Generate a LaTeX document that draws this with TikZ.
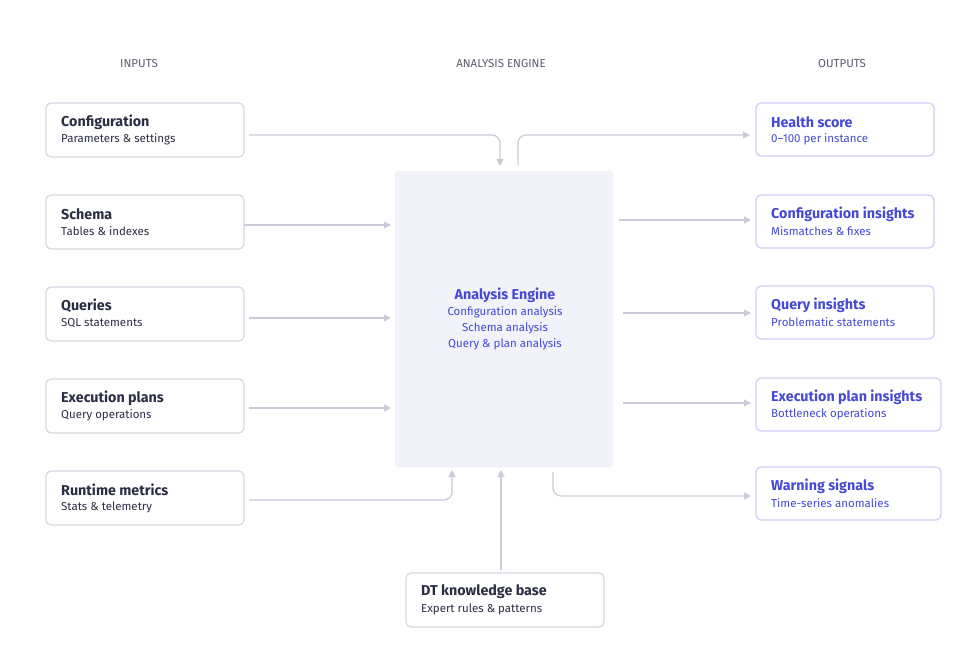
\documentclass[tikz,border=0pt]{standalone}
\usepackage{fontspec}
\setmainfont{Fira Sans}
\usetikzlibrary{arrows.meta}
\definecolor{bd}{HTML}{D6D9E3}
\definecolor{bdb}{HTML}{CDD1F3}
\definecolor{ar}{HTML}{C9CBD8}
\definecolor{eng}{HTML}{F1F2FA}
\definecolor{dk}{HTML}{2B2D45}
\definecolor{bl}{HTML}{4549D3}
\definecolor{hd}{HTML}{5A5D70}
\begin{document}
\begin{tikzpicture}[x=1pt,y=-1pt,
 box/.style={draw=bd,line width=1.3pt,rounded corners=5pt,fill=white},
 obox/.style={draw=bdb,line width=1.3pt,rounded corners=5pt,fill=white},
 ttl/.style={anchor=west,inner sep=1pt,font=\fontsize{14.3}{16}\selectfont\bfseries,text=dk},
 sub/.style={anchor=west,inner sep=1pt,font=\fontsize{11.5}{13}\selectfont,text=dk},
 ottl/.style={ttl,text=bl}, osub/.style={sub,text=bl},
 hdr/.style={font=\fontsize{11.5}{13}\selectfont,text=hd},
 arr/.style={draw=ar,line width=1.2pt,-{Triangle[length=7pt,width=7pt]},rounded corners=8pt}]
\useasboundingbox (0,0) rectangle (970,662);
\node[hdr] at (139,64) {INPUTS};
\node[hdr] at (501,64) {ANALYSIS ENGINE};
\node[hdr] at (842,64) {OUTPUTS};
% inputs
\foreach \n/\y/\t/\s in {cfg/103/Configuration/Parameters \& settings, sch/195/Schema/Tables \& indexes, qry/287/Queries/SQL statements, exe/379/Execution plans/Query operations, run/471/Runtime metrics/Stats \& telemetry}{
 \draw[box] (46,\y) rectangle (244,\y+54);
 \node[ttl] (\n) at (60,\y+19) {\t};
 \node[sub] (\n s) at (60,\y+36) {\s};
}
% outputs
\foreach \n/\y/\w/\t/\s in {hs/103/934/Health score/0–100 per instance, ci/195/934/Configuration insights/Mismatches \& fixes, qi/286/934/Query insights/Problematic statements, ei/378/941/Execution plan insights/Bottleneck operations, ws/467/941/Warning signals/Time-series anomalies}{
 \draw[obox] (756,\y) rectangle (\w,\y+53);
 \node[ottl] (\n) at (770,\y+19) {\t};
 \node[osub] (\n s) at (770,\y+36) {\s};
}
% engine
\fill[eng,rounded corners=3pt] (395,171) rectangle (613,467);
\node[font=\fontsize{14.3}{16}\selectfont\bfseries,text=bl] (en) at (505,295) {Analysis Engine};
\node[font=\fontsize{11.5}{16}\selectfont,text=bl,align=center] (ens) at (505,328) {Configuration analysis\\Schema analysis\\Query \& plan analysis};
% kb
\draw[box] (406,573) rectangle (604,627);
\node[ttl] (kb) at (420,592) {DT knowledge base};
\node[sub] (kbs) at (420,609) {Expert rules \& patterns};
% connectors
\coordinate (a1) at (249,135); \coordinate (a1e) at (500,166);
\draw[arr] (a1) -| (a1e);
\coordinate (h1) at (518,165); \coordinate (h1e) at (750,135);
\draw[arr] (h1) |- (h1e);
\coordinate (s1) at (244,225); \coordinate (s1e) at (391,225); \draw[arr] (s1) -- (s1e);
\coordinate (q1) at (249,318); \coordinate (q1e) at (391,318); \draw[arr] (q1) -- (q1e);
\coordinate (e1) at (249,408); \coordinate (e1e) at (391,408); \draw[arr] (e1) -- (e1e);
\coordinate (r1) at (249,500); \coordinate (r1e) at (452,470); \draw[arr] (r1) -| (r1e);
\coordinate (k1) at (501,570); \coordinate (k1e) at (501,470); \draw[arr] (k1) -- (k1e);
\coordinate (o2) at (619,220); \coordinate (o2e) at (751,220); \draw[arr] (o2) -- (o2e);
\coordinate (o3) at (623,313); \coordinate (o3e) at (751,313); \draw[arr] (o3) -- (o3e);
\coordinate (o4) at (623,403); \coordinate (o4e) at (751,403); \draw[arr] (o4) -- (o4e);
\coordinate (o5) at (553,472); \coordinate (o5e) at (751,496); \draw[arr] (o5) |- (o5e);
\end{tikzpicture}
\end{document}
